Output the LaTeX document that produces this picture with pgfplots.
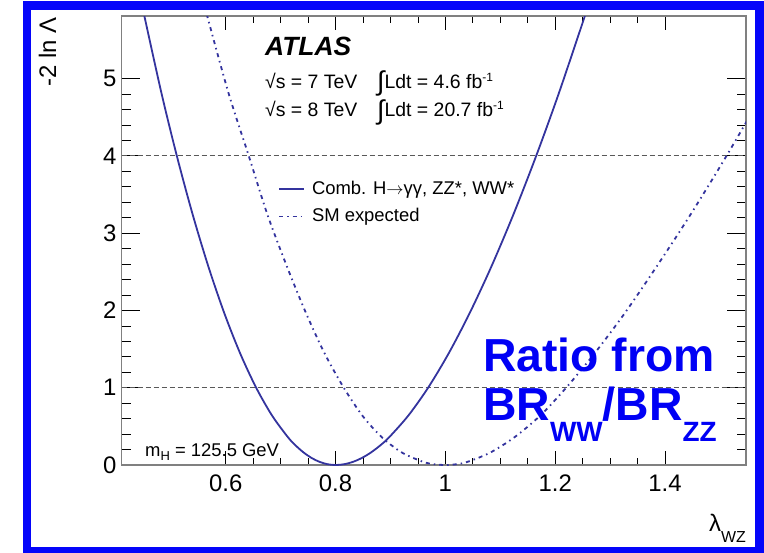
\documentclass[border=0pt]{standalone}
\usepackage{fontspec}
\setmainfont{Liberation Sans}
\usepackage{pgfplots}
\pgfplotsset{compat=1.18}
\definecolor{curve}{RGB}{52,52,158}
\definecolor{frameblue}{RGB}{5,5,250}
\definecolor{titleblue}{RGB}{0,0,245}

\begin{document}
\begin{tikzpicture}
\useasboundingbox (0bp,0bp) rectangle (764bp,-553bp);
\begin{axis}[
  at={(121.7bp,-465bp)}, anchor=south west,
  scale only axis, width=624.3bp, height=449bp,
  xmin=0.4106, xmax=1.5475, ymin=0, ymax=5.81,
  xtick={0.6,0.8,1,1.2,1.4}, xticklabels={0.6,0.8,1,1.2,1.4},
  ytick={0,1,2,3,4,5},
  minor x tick num=3, minor y tick num=4,
  tick align=inside,
  major tick length=14bp, minor tick length=7bp,
  ytick style={/pgfplots/major tick length=18.7bp,/pgfplots/minor tick length=9.4bp},
  tick style={black, line width=0.8bp},
  axis line style={draw=black!50, line width=1.2bp},
  /pgf/number format/assume math mode=true,
  ticklabel style={font=\fontsize{24}{24}\selectfont},
  xticklabel style={anchor=base, yshift=-26bp, inner sep=0pt},
  yticklabel style={anchor=east, inner sep=0pt, xshift=-5bp},
  legend style={draw=none, fill=none, at={(0.2504,0.637)}, anchor=north west,
    font=\fontsize{18.5}{18.5}\selectfont, inner sep=0pt, row sep=7.4bp,
    nodes={inner sep=1bp, text height=14bp, text depth=4bp},
    /tikz/every odd column/.append style={column sep=6bp}},
  legend cell align=left,
  legend image code/.code={\draw[#1] (0bp,0bp) -- (25bp,0bp);},
]
% reference levels at one and two standard deviations
\addplot[black!65, line width=0.8bp, dash pattern=on 5bp off 3bp, forget plot]
  coordinates {(0.4106,1) (1.5475,1)};
\addplot[black!65, line width=0.8bp, dash pattern=on 5bp off 3bp, forget plot]
  coordinates {(0.4106,4) (1.5475,4)};

% observed combined profile likelihood
\addplot[curve, line width=1.8bp, smooth] coordinates {
  (0.44597,6.0025) (0.4821,4.84) (0.511,4.0) (0.5399,3.24) (0.5688,2.56)
  (0.5977,1.96) (0.6266,1.44) (0.6555,1.0) (0.6844,0.64) (0.7133,0.36)
  (0.72775,0.25) (0.7422,0.16) (0.75665,0.09) (0.7711,0.04) (0.78555,0.01)
  (0.80,0)
  (0.8156,0.01) (0.8315,0.04) (0.8476,0.09) (0.8641,0.16) (0.8808,0.25)
  (0.8978,0.36) (0.9326,0.64) (0.9686,1.0) (1.0057,1.44) (1.0439,1.96)
  (1.0833,2.56) (1.1238,3.24) (1.1654,4.0) (1.2081,4.84) (1.2631,6.0025)
};
\addlegendentry{Comb. H$\rightarrow$γγ, ZZ*, WW*}

% Standard Model expectation
\addplot[curve, line width=1.8bp, smooth,
  dash pattern=on 4bp off 4bp on 1.5bp off 4bp] coordinates {
  (0.559,6.0025) (0.604,4.84) (0.642,4.0) (0.676,3.24) (0.712,2.56)
  (0.7466,1.96) (0.7804,1.44) (0.815,1.0) (0.8488,0.64) (0.8842,0.36)
  (0.9212,0.16) (0.96,0.04) (0.98,0.01) (1.0,0)
  (1.02,0.01) (1.04,0.04) (1.0816,0.16) (1.126,0.36) (1.1728,0.64)
  (1.22,1.0) (1.2712,1.44) (1.3262,1.96) (1.384,2.56) (1.4464,3.24)
  (1.512,4.0) (1.5808,4.84)
};
\addlegendentry{SM expected}
\end{axis}

% axis titles
\node[rotate=90, anchor=east, inner sep=0pt, font=\fontsize{24}{24}\selectfont]
  at (47.5bp,-17bp) {-2 ln Λ};
\node[anchor=base east, inner sep=0pt, font=\fontsize{24}{24}\selectfont]
  at (746bp,-531.7bp) {λ\raisebox{-11bp}{\fontsize{16}{16}\selectfont WZ}};

% experiment label
\node[anchor=base west, inner sep=0pt, font=\fontsize{26.5}{26.5}\selectfont\bfseries\itshape]
  at (265bp,-55bp) {ATLAS};
\node[anchor=base west, inner sep=0pt, font=\fontsize{19.5}{19.5}\selectfont]
  at (265bp,-88bp) {√s = 7 TeV};
\node[anchor=base west, inner sep=0pt, font=\fontsize{19.5}{19.5}\selectfont]
  at (377bp,-88bp) {\raisebox{-2.5bp}{\fontsize{27}{27}\selectfont ∫}Ldt = 4.6 fb\raisebox{7bp}{\fontsize{12}{12}\selectfont -1}};
\node[anchor=base west, inner sep=0pt, font=\fontsize{19.5}{19.5}\selectfont]
  at (265bp,-116.7bp) {√s = 8 TeV};
\node[anchor=base west, inner sep=0pt, font=\fontsize{19.5}{19.5}\selectfont]
  at (377bp,-116.7bp) {\raisebox{-2.5bp}{\fontsize{27}{27}\selectfont ∫}Ldt = 20.7 fb\raisebox{7bp}{\fontsize{12}{12}\selectfont -1}};
\node[anchor=base west, inner sep=0pt, font=\fontsize{18.5}{18.5}\selectfont]
  at (145bp,-456bp) {m\raisebox{-4bp}{\fontsize{13}{13}\selectfont H} = 125.5 GeV};

% annotation
\node[anchor=base west, inner sep=0pt, text=titleblue, font=\fontsize{46.5}{46.5}\selectfont\bfseries]
  at (483bp,-371.7bp) {Ratio from};
\node[anchor=base west, inner sep=0pt, text=titleblue, font=\fontsize{46.5}{46.5}\selectfont\bfseries]
  at (483bp,-420bp) {BR\raisebox{-21.7bp}{\fontsize{28}{28}\selectfont WW}/BR\raisebox{-21.7bp}{\fontsize{28}{28}\selectfont ZZ}};

% slide frame
\draw[frameblue, line width=8.5bp] (27bp,-5.5bp) rectangle (759.5bp,-551.5bp);
\end{tikzpicture}
\end{document}
